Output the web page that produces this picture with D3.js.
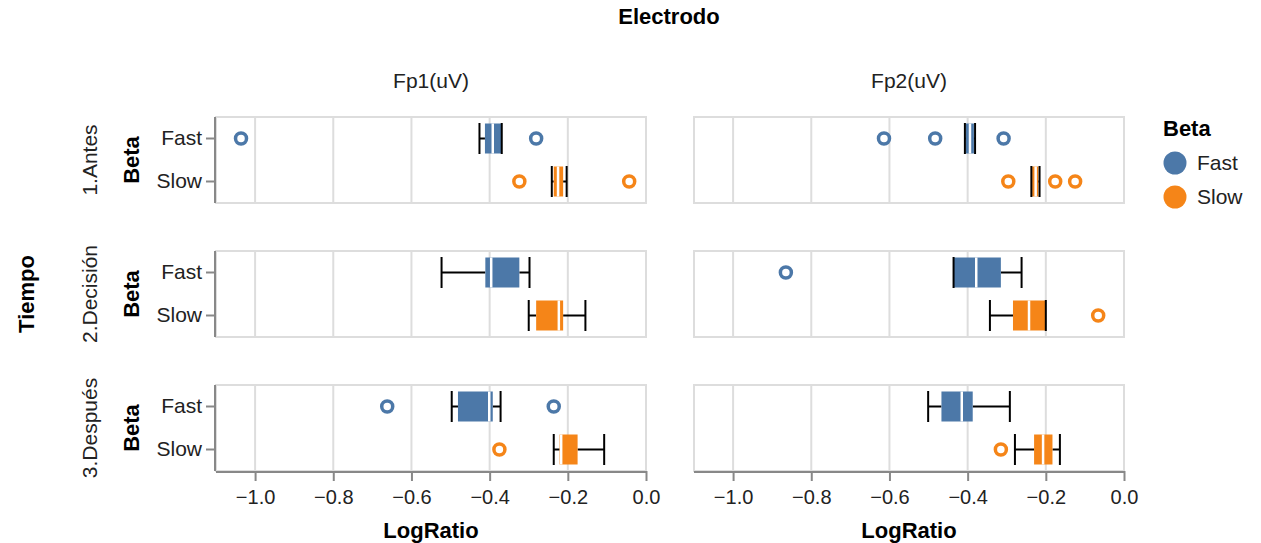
<!DOCTYPE html>
<html>
<head>
<meta charset="utf-8">
<script src="https://cdn.jsdelivr.net/npm/d3@7"></script>
<style>
  body { margin: 0; background: #fff; }
  text { font-family: "Liberation Sans", Arial, sans-serif; fill: #000; }
</style>
</head>
<body>
<div id="chart"></div>
<script>
// facet categories
const tiempos = ["1.Antes", "2.Decisión", "3.Después"];
const electrodos = ["Fp1(uV)", "Fp2(uV)"];
const betas = ["Fast", "Slow"];

// box stats, order: tiempo -> electrodo -> beta
const whiskerLow  = [-0.426, -0.241, -0.407, -0.237,  -0.523, -0.300, -0.436, -0.343,  -0.497, -0.236, -0.501, -0.279];
const q1          = [-0.412, -0.236, -0.405, -0.235,  -0.411, -0.281, -0.436, -0.284,  -0.481, -0.221, -0.467, -0.230];
const medians     = [-0.392, -0.225, -0.394, -0.226,  -0.396, -0.223, -0.378, -0.243,  -0.401, -0.217, -0.415, -0.207];
const q3          = [-0.369, -0.212, -0.384, -0.219,  -0.324, -0.212, -0.315, -0.201,  -0.392, -0.175, -0.387, -0.183];
const whiskerHigh = [-0.369, -0.203, -0.381, -0.216,  -0.298, -0.155, -0.262, -0.200,  -0.372, -0.107, -0.292, -0.164];
const outliers = [
  [-1.036, -0.281], [-0.324, -0.043], [-0.614, -0.483, -0.308], [-0.296, -0.176, -0.125],
  [], [], [-0.865], [-0.066],
  [-0.662, -0.236], [-0.375], [], [-0.315]
];

const colors = {Fast: "#4c78a8", Slow: "#f58518"};

const W = 1261, H = 543;
const panelW = 430, panelH = 86;
const colX = [216, 694];
const rowY = [117, 251, 385];

const svg = d3.select("#chart").append("svg")
    .attr("width", W)
    .attr("height", H);

const x = d3.scaleLinear().domain([-1.1, 0]).range([0, panelW]);
const y = d3.scaleBand().domain(betas).range([0, panelH]);
const fmt = d3.format(".1f");

// build rows of stats
const boxes = [];
tiempos.forEach((t, ti) => {
    electrodos.forEach((e, ei) => {
        betas.forEach((b, bi) => {
            const i = ti * 4 + ei * 2 + bi;
            boxes.push({t, e, b, ti, ei, lo: whiskerLow[i], q1: q1[i], med: medians[i],
                q3: q3[i], hi: whiskerHigh[i], out: outliers[i]});
        });
    });
});

// titles
svg.append("text")
    .attr("x", 669).attr("y", 24)
    .attr("text-anchor", "middle")
    .style("font-size", "22px").style("font-weight", "bold")
    .text("Electrodo");

electrodos.forEach((e, ei) => {
    svg.append("text")
        .attr("x", colX[ei] + panelW / 2).attr("y", 88)
        .attr("text-anchor", "middle")
        .style("font-size", "21px").style("fill", "#222")
        .text(e);
});

svg.append("text")
    .attr("transform", `translate(34,${(rowY[0] + rowY[2] + panelH) / 2}) rotate(-90)`)
    .attr("text-anchor", "middle")
    .style("font-size", "22px").style("font-weight", "bold")
    .text("Tiempo");

tiempos.forEach((t, ti) => {
    const cy = rowY[ti] + panelH / 2;
    svg.append("text")
        .attr("transform", `translate(97,${cy}) rotate(-90)`)
        .attr("text-anchor", "middle")
        .style("font-size", "21px").style("fill", "#222")
        .text(t);
    svg.append("text")
        .attr("transform", `translate(139,${cy}) rotate(-90)`)
        .attr("text-anchor", "middle")
        .style("font-size", "22px").style("font-weight", "bold")
        .text("Beta");
});

// panels
tiempos.forEach((t, ti) => {
    electrodos.forEach((e, ei) => {
        const g = svg.append("g")
            .attr("transform", `translate(${colX[ei]},${rowY[ti]})`);

        // grid
        g.selectAll(".grid")
            .data(x.ticks(5))
            .enter().append("line")
            .attr("x1", d => x(d)).attr("x2", d => x(d))
            .attr("y1", 0).attr("y2", panelH)
            .style("stroke", "#ddd").style("stroke-width", 2);

        g.append("rect")
            .attr("width", panelW).attr("height", panelH)
            .style("fill", "none").style("stroke", "#ddd").style("stroke-width", 2);

        const data = boxes.filter(d => d.ti === ti && d.ei === ei);
        const cy = d => y(d.b) + y.bandwidth() / 2;

        // whisker rules
        g.selectAll(".wl").data(data).enter().append("line")
            .attr("x1", d => x(d.lo)).attr("x2", d => x(d.q1))
            .attr("y1", cy).attr("y2", cy)
            .style("stroke", "#000").style("stroke-width", 2);
        g.selectAll(".wh").data(data).enter().append("line")
            .attr("x1", d => x(d.q3)).attr("x2", d => x(d.hi))
            .attr("y1", cy).attr("y2", cy)
            .style("stroke", "#000").style("stroke-width", 2);

        // boxes
        g.selectAll(".box").data(data).enter().append("rect")
            .attr("x", d => x(d.q1))
            .attr("width", d => Math.max(1, x(d.q3) - x(d.q1)))
            .attr("y", d => cy(d) - 15).attr("height", 30)
            .style("fill", d => colors[d.b]);

        // median
        g.selectAll(".med").data(data).enter().append("line")
            .attr("x1", d => x(d.med)).attr("x2", d => x(d.med))
            .attr("y1", d => cy(d) - 15).attr("y2", d => cy(d) + 15)
            .style("stroke", "#fff").style("stroke-width", 2.5);

        // whisker ends
        ["lo", "hi"].forEach(k => {
            g.selectAll(".tick-" + k).data(data).enter().append("line")
                .attr("x1", d => x(d[k])).attr("x2", d => x(d[k]))
                .attr("y1", d => cy(d) - 15.5).attr("y2", d => cy(d) + 15.5)
                .style("stroke", "#000").style("stroke-width", 2);
        });

        // outliers
        const pts = [];
        data.forEach(d => d.out.forEach(v => pts.push({b: d.b, v})));
        g.selectAll(".out").data(pts).enter().append("circle")
            .attr("cx", d => x(d.v))
            .attr("cy", d => y(d.b) + y.bandwidth() / 2)
            .attr("r", 5.5)
            .style("fill", "#fff")
            .style("stroke", d => colors[d.b])
            .style("stroke-width", 3.5);

        // y axis on left column
        if (ei === 0) {
            const ya = g.append("g").call(d3.axisLeft(y).tickSize(10).tickPadding(4));
            ya.select(".domain").style("stroke", "#888").style("stroke-width", 2)
                .attr("d", `M-1,0V${panelH}`);
            ya.selectAll(".tick line").style("stroke", "#888").style("stroke-width", 2);
            ya.selectAll(".tick text")
                .style("font-size", "21px").style("fill", "#222")
                .style("font-family", '"Liberation Sans", Arial, sans-serif');
        }

        // x axis on bottom row
        if (ti === tiempos.length - 1) {
            const xa = g.append("g")
                .attr("transform", `translate(0,${panelH})`)
                .call(d3.axisBottom(x).ticks(5).tickFormat(fmt).tickSize(10).tickPadding(9));
            xa.select(".domain").style("stroke", "#888").style("stroke-width", 2)
                .attr("d", `M0,1H${panelW}`);
            xa.selectAll(".tick line").style("stroke", "#888").style("stroke-width", 2);
            xa.selectAll(".tick text")
                .style("font-size", "20px").style("fill", "#222")
                .style("font-family", '"Liberation Sans", Arial, sans-serif');
            g.append("text")
                .attr("x", panelW / 2).attr("y", panelH + 67)
                .attr("text-anchor", "middle")
                .style("font-size", "22px").style("font-weight", "bold")
                .text("LogRatio");
        }
    });
});

// legend
const legend = svg.append("g").attr("transform", "translate(1163,0)");
legend.append("text")
    .attr("x", 0).attr("y", 136)
    .style("font-size", "22px").style("font-weight", "bold")
    .text("Beta");
betas.forEach((b, i) => {
    legend.append("circle")
        .attr("cx", 12).attr("cy", 163 + i * 34)
        .attr("r", 11.5)
        .style("fill", colors[b]);
    legend.append("text")
        .attr("x", 34).attr("y", 163 + i * 34 + 7)
        .style("font-size", "21px").style("fill", "#222")
        .text(b);
});
</script>
</body>
</html>
